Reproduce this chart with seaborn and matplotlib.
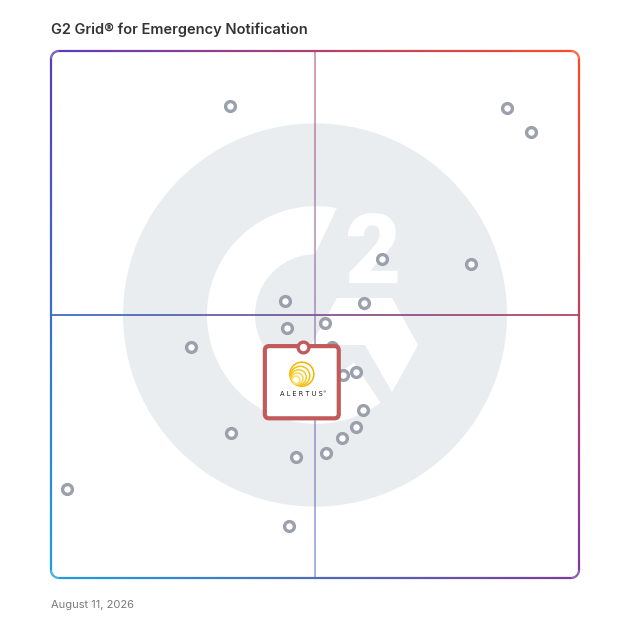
import numpy as np
import pandas as pd
import matplotlib
matplotlib.use("Agg")
import matplotlib.pyplot as plt
import matplotlib.colors as mcolors
import seaborn as sns
from matplotlib.collections import LineCollection
from matplotlib.patches import Circle, Polygon, FancyBboxPatch

# G2 grid scores (0-100): satisfaction on x, market presence on y
satisfaction = [33.9, 86.4, 90.9, 62.7, 79.5, 44.3, 59.3, 51.9, 44.7, 26.5, 53.2,
                55.3, 57.8, 59.1, 57.8, 55.1, 34.1, 52.1, 46.4, 3.0, 45.1]
market_presence = [89.6, 89.2, 84.6, 60.5, 59.6, 52.6, 52.2, 48.4, 47.4, 43.8, 43.8,
                   38.5, 39.1, 31.9, 28.7, 26.6, 27.5, 23.7, 23.0, 16.9, 9.9]
highlight_name = "ALERTUS"
highlight_x = [47.7]
highlight_y = [43.8]
title = "G2 Grid® for Emergency Notification"
date_label = "August 11, 2026"

df = pd.DataFrame({"satisfaction": satisfaction, "market_presence": market_presence})
hl = pd.DataFrame({"satisfaction": highlight_x, "market_presence": highlight_y})

# corner colours of the gradient frame
c_tl, c_tr, c_bl, c_br = [np.array(mcolors.to_rgb(c)) for c in
                          ("#5b3cb8", "#ff4a26", "#1e9fd9", "#7b3a9f")]


def grad(x, y):
    u, v = np.clip(x / 100, 0, 1), np.clip(y / 100, 0, 1)
    top = c_tl * (1 - u) + c_tr * u
    bot = c_bl * (1 - u) + c_br * u
    return bot * (1 - v) + top * v


def densify(pts, step=0.4):
    out = [pts[0]]
    for a, b in zip(pts[:-1], pts[1:]):
        n = max(int(np.hypot(*(b - a)) / step), 1)
        for t in np.linspace(0, 1, n + 1)[1:]:
            out.append(a + (b - a) * t)
    return np.array(out)


def grad_line(pts, lw, alpha=1.0):
    pts = densify(np.asarray(pts, dtype=float))
    segs = np.stack([pts[:-1], pts[1:]], axis=1)
    mids = segs.mean(axis=1)
    cols = [(*grad(mx, my), alpha) for mx, my in mids]
    return LineCollection(segs, colors=cols, linewidths=lw, capstyle="butt",
                          clip_on=False, zorder=2)


def rounded_rect(r=1.5, n=16):
    pts = []
    for cx, cy, a0 in [(r, 100 - r, 180), (100 - r, 100 - r, 90),
                       (100 - r, r, 0), (r, r, -90)]:
        ang = np.radians(np.linspace(a0, a0 - 90, n))
        pts += list(zip(cx + r * np.cos(ang), cy + r * np.sin(ang)))
    pts.append(pts[0])
    return np.array(pts)


def px(x, y):
    # pixel position inside the 628px image -> data units of the grid
    return ((x - 51) / 5.28, (578 - y) / 5.27)


fig = plt.figure(figsize=(6.28, 6.28), dpi=100)
ax = fig.add_axes([51 / 628, 50 / 628, 528 / 628, 527 / 628])
ax.set_xlim(0, 100)
ax.set_ylim(0, 100)
ax.axis("off")

# G2 watermark
ax.add_patch(Circle(px(315, 315), 192 / 5.28, color="#eaedf0", zorder=0, lw=0))
cx, cy = px(316, 315)
r_out, r_in = 109 / 5.28, 61 / 5.28
a_out = np.radians(np.linspace(79, 306.3, 80))
a_in = np.radians(np.linspace(308.4, 91, 80))
arc = np.vstack([np.c_[cx + r_out * np.cos(a_out), cy + r_out * np.sin(a_out)],
                 np.c_[cx + r_in * np.cos(a_in), cy + r_in * np.sin(a_in)]])
ax.add_patch(Polygon(arc, closed=True, color="white", lw=0, zorder=1))
chevron = [px(337, 298), px(392, 298), px(418, 345), px(392, 392), px(365, 345), px(311, 345)]
ax.add_patch(Polygon(chevron, closed=True, color="white", lw=0, zorder=1))
tx, ty = px(372, 283)
ax.text(tx, ty, "2", color="white", fontsize=70, fontweight=900, family="Roboto",
        ha="center", va="baseline", zorder=1)

# frame and quadrant lines
ax.add_collection(grad_line(rounded_rect(), 1.6))
ax.add_collection(grad_line([(50, 0), (50, 100)], 1.2, alpha=0.6))
ax.add_collection(grad_line([(0, 50), (100, 50)], 1.3))

# vendors
sns.scatterplot(data=df, x="satisfaction", y="market_presence", ax=ax, s=50,
                color="white", edgecolor="#9aa0ac", linewidth=2.4, zorder=3, legend=False)

# highlighted vendor card
hx, hy = highlight_x[0], highlight_y[0]
ax.add_patch(FancyBboxPatch((hx - 7.2, hy - 13.5), 14.0, 13.7,
                            boxstyle="round,pad=0,rounding_size=0.8",
                            ec="#c25a5b", fc="white", lw=3, zorder=4))
sns.scatterplot(data=hl, x="satisfaction", y="market_presence", ax=ax, s=60,
                color="white", edgecolor="#c25a5b", linewidth=2.4, zorder=6, legend=False)

# Alertus logo: nested rings touching at lower-left
lx, ly = hx - 0.19, hy - 5.12
R = 12 / 5.28
d = np.array([np.cos(np.radians(45)), np.sin(np.radians(45))])
tp = np.array([lx, ly]) - R * d
ring_cols = ["#f2b400", "#f5bf12", "#f7ca2e", "#fad54a", "#fcdf6a"]
for rr, col in zip([1.0, 0.8, 0.63, 0.47, 0.32], ring_cols):
    c = tp + R * rr * d
    ax.add_patch(Circle(c, R * rr, fill=False, ec=col, lw=1.1, zorder=5))
ax.text(hx - 0.25, hy - 8.9, "A L E R T U S", fontsize=4.8, color="#222222",
        ha="center", va="center", family="DejaVu Sans", zorder=5)
ax.text(hx + 4.1, hy - 8.6, "®", fontsize=2.5, color="#222222",
        ha="center", va="center", zorder=5)

fig.text(51 / 628, 1 - 34 / 628, title, fontsize=10.5, fontweight="semibold",
         color="#333333", family="Inter", va="baseline")
fig.text(51 / 628, 1 - 608 / 628, date_label, fontsize=8, color="#7a7a7a",
         family="Inter", va="baseline")

fig.savefig("out.png", dpi=100, facecolor="white")
